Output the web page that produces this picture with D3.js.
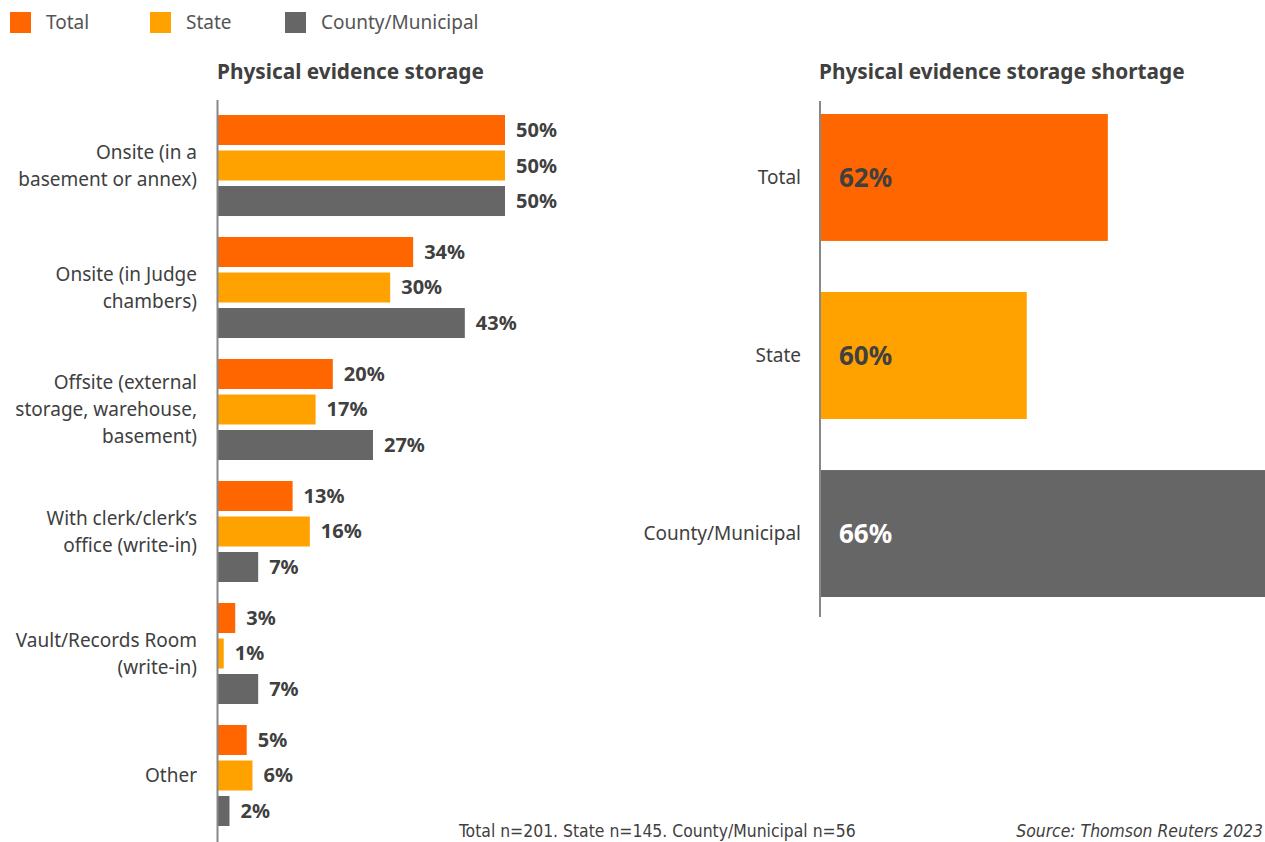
<!DOCTYPE html>
<html>
<head>
<meta charset="utf-8">
<script src="https://cdn.jsdelivr.net/npm/d3@7"></script>
<style>
  html, body { margin: 0; padding: 0; background: #fff; overflow: hidden; }
  svg { display: block; font-family: 'Noto Sans', sans-serif; }
</style>
</head>
<body>
<div id="chart"></div>
<script>
// Data
const series = ['Total', 'State', 'County/Municipal'];
const categories = [
    'Onsite (in a\nbasement or annex)',
    'Onsite (in Judge\nchambers)',
    'Offsite (external\nstorage, warehouse,\nbasement)',
    'With clerk/clerk\u2019s\noffice (write-in)',
    'Vault/Records Room\n(write-in)',
    'Other'
];
const totalValues = [50, 34, 20, 13, 3, 5];
const stateValues = [50, 30, 17, 16, 1, 6];
const countyValues = [50, 43, 27, 7, 7, 2];
const shortageValues = [62, 60, 66];
const footNote = 'Total n=201. State n=145. County/Municipal n=56';
const sourceNote = 'Source: Thomson Reuters 2023';

const COLORS = { 'Total': '#ff6600', 'State': '#ffa200', 'County/Municipal': '#666666' };
const TEXT = '#404040';

const width = 1265, height = 842;
const svg = d3.select('#chart').append('svg')
    .attr('width', width)
    .attr('height', height);

// Legend
const legend = svg.append('g');
const legendX = [10, 150, 285];
series.forEach((s, i) => {
    legend.append('rect')
        .attr('x', legendX[i]).attr('y', 12)
        .attr('width', 21).attr('height', 21)
        .attr('fill', COLORS[s]);
    legend.append('text')
        .attr('x', legendX[i] + 36).attr('y', 29)
        .style('font-size', '19px')
        .style('fill', '#555')
        .text(s);
});

// Left chart: grouped bars
const rows = categories.map((c, i) => ({
    category: c,
    values: [totalValues[i], stateValues[i], countyValues[i]]
}));

const x = d3.scaleLinear().domain([0, 50]).range([218, 505]);
const y0 = d3.scaleBand().domain(categories).range([115, 826]).paddingInner(0.172);
const y1 = d3.scaleBand().domain(series).range([0, y0.bandwidth()]).paddingInner(0.155);

svg.append('text')
    .attr('x', 217).attr('y', 79)
    .style('font-size', '20.8px')
    .style('font-weight', '700')
    .style('fill', TEXT)
    .text('Physical evidence storage');

const groups = svg.append('g').selectAll('g')
    .data(rows)
    .join('g')
    .attr('transform', d => `translate(0,${y0(d.category)})`);

groups.selectAll('rect')
    .data(d => d.values.map((v, i) => ({ key: series[i], value: v })))
    .join('rect')
    .attr('x', x(0))
    .attr('y', d => y1(d.key))
    .attr('width', d => x(d.value) - x(0))
    .attr('height', y1.bandwidth())
    .attr('fill', d => COLORS[d.key]);

groups.selectAll('text.value')
    .data(d => d.values.map((v, i) => ({ key: series[i], value: v })))
    .join('text')
    .attr('class', 'value')
    .attr('x', d => x(d.value) + 11)
    .attr('y', d => y1(d.key) + y1.bandwidth() / 2)
    .attr('dy', '0.35em')
    .style('font-size', '20px')
    .style('font-weight', '700')
    .style('fill', TEXT)
    .text(d => `${d.value}%`);

// Multi-line category labels
const lineHeight = 27;
svg.append('g').selectAll('text')
    .data(categories)
    .join('text')
    .attr('text-anchor', 'end')
    .style('font-size', '19px')
    .style('fill', TEXT)
    .each(function(c) {
        const lines = c.split('\n');
        const cy = y0(c) + y0.bandwidth() / 2;
        const first = cy - (lines.length - 1) * lineHeight / 2;
        d3.select(this).selectAll('tspan')
            .data(lines)
            .join('tspan')
            .attr('x', 197)
            .attr('y', (l, i) => first + i * lineHeight)
            .attr('dy', '0.35em')
            .text(l => l);
    });

svg.append('line')
    .attr('x1', x(0) - 0.5).attr('x2', x(0) - 0.5)
    .attr('y1', 100).attr('y2', height)
    .attr('stroke', '#888')
    .attr('stroke-width', 2);

// Right chart: shortage
const xR = d3.scaleLinear().domain([54.9, 66]).range([820, 1270]);
const yR = d3.scaleBand().domain(series).range([114, 597]).paddingInner(0.287);

svg.append('text')
    .attr('x', 819).attr('y', 79)
    .style('font-size', '20.8px')
    .style('font-weight', '700')
    .style('fill', TEXT)
    .text('Physical evidence storage shortage');

const shortage = series.map((s, i) => ({ key: s, value: shortageValues[i] }));

svg.append('g').selectAll('rect')
    .data(shortage)
    .join('rect')
    .attr('x', xR.range()[0])
    .attr('y', d => yR(d.key))
    .attr('width', d => xR(d.value) - xR.range()[0])
    .attr('height', yR.bandwidth())
    .attr('fill', d => COLORS[d.key]);

svg.append('g').selectAll('text')
    .data(shortage)
    .join('text')
    .attr('x', 839)
    .attr('y', d => yR(d.key) + yR.bandwidth() / 2)
    .attr('dy', '0.35em')
    .style('font-size', '26px')
    .style('font-weight', '700')
    .style('fill', d => d.key === 'County/Municipal' ? '#fff' : TEXT)
    .text(d => `${d.value}%`);

svg.append('g').selectAll('text')
    .data(shortage)
    .join('text')
    .attr('x', 801)
    .attr('y', d => yR(d.key) + yR.bandwidth() / 2)
    .attr('dy', '0.35em')
    .attr('text-anchor', 'end')
    .style('font-size', '19px')
    .style('fill', TEXT)
    .text(d => d.key);

svg.append('line')
    .attr('x1', 820).attr('x2', 820)
    .attr('y1', 101).attr('y2', 617)
    .attr('stroke', '#888')
    .attr('stroke-width', 2);

// Footer
svg.append('text')
    .attr('x', 459).attr('y', 837)
    .style('font-family', "'Liberation Sans Narrow', 'DejaVu Sans Condensed', sans-serif")
    .style('font-size', '17.4px')
    .style('fill', TEXT)
    .text(footNote);

svg.append('text')
    .attr('x', 1263).attr('y', 837)
    .attr('text-anchor', 'end')
    .style('font-family', "'Liberation Sans Narrow', 'DejaVu Sans Condensed', sans-serif")
    .style('font-size', '17.4px')
    .style('font-style', 'italic')
    .style('fill', TEXT)
    .text(sourceNote);
</script>
</body>
</html>
